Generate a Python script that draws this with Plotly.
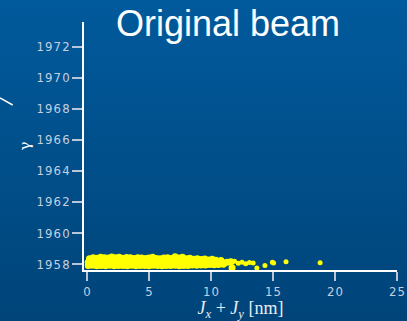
import plotly.graph_objects as go

# Dense core of the beam (three hand-read rows) and sparse tail
top_x = [0.2, 0.5, 0.8, 1.1, 1.4, 1.7, 2.0, 2.3, 2.6, 2.9, 3.2, 3.5, 3.8, 4.1, 4.4, 4.7, 5.0, 5.3,
         5.6, 5.9, 6.2, 6.5, 6.8, 7.1, 7.4, 7.7, 8.0, 8.3, 8.6, 8.9, 9.2, 9.5, 9.8, 10.1, 10.4, 10.8]
top_y = [1958.34, 1958.40, 1958.37, 1958.43, 1958.41, 1958.38, 1958.45, 1958.41, 1958.43, 1958.37,
         1958.42, 1958.40, 1958.36, 1958.41, 1958.38, 1958.35, 1958.39, 1958.43, 1958.36, 1958.34,
         1958.38, 1958.41, 1958.35, 1958.46, 1958.38, 1958.43, 1958.33, 1958.37, 1958.31, 1958.34,
         1958.29, 1958.32, 1958.26, 1958.30, 1958.24, 1958.22]
mid_x = [0.1, 0.45, 0.8, 1.15, 1.5, 1.85, 2.2, 2.55, 2.9, 3.25, 3.6, 3.95, 4.3, 4.65, 5.0, 5.35,
         5.7, 6.05, 6.4, 6.75, 7.1, 7.45, 7.8, 8.15, 8.5, 8.85, 9.2, 9.55, 9.9, 10.25, 10.6, 10.95,
         11.3, 11.6]
mid_y = [1958.12, 1958.14, 1958.10, 1958.15, 1958.11, 1958.13, 1958.16, 1958.09, 1958.14, 1958.12,
         1958.15, 1958.10, 1958.13, 1958.11, 1958.14, 1958.12, 1958.09, 1958.14, 1958.11, 1958.13,
         1958.15, 1958.10, 1958.12, 1958.14, 1958.09, 1958.12, 1958.10, 1958.13, 1958.08, 1958.11,
         1958.07, 1958.10, 1958.12, 1958.15]
bot_x = [0.1, 0.45, 0.8, 1.15, 1.5, 1.85, 2.2, 2.55, 2.9, 3.25, 3.6, 3.95, 4.3, 4.65, 5.0, 5.35,
         5.7, 6.05, 6.4, 6.75, 7.1, 7.45, 7.8, 8.15, 8.5, 8.85, 9.2, 9.55, 9.9, 10.25, 10.6, 11.0,
         11.7]
bot_y = [1957.90, 1957.92, 1957.88, 1957.91, 1957.89, 1957.92, 1957.88, 1957.90, 1957.91, 1957.89,
         1957.92, 1957.88, 1957.90, 1957.91, 1957.89, 1957.92, 1957.90, 1957.88, 1957.91, 1957.90,
         1957.92, 1957.89, 1957.91, 1957.90, 1957.93, 1957.92, 1957.94, 1957.93, 1957.96, 1957.95,
         1957.97, 1957.98, 1957.76]
tail_x = [11.9, 12.2, 12.5, 12.8, 13.1, 13.4, 13.7, 14.35, 14.95, 15.05, 16.05, 18.8]
tail_y = [1958.18, 1958.05, 1958.12, 1958.02, 1958.10, 1958.06, 1957.74, 1957.90, 1958.12, 1958.06, 1958.15, 1958.08]

x_ticks = [0, 5, 10, 15, 20, 25]
y_ticks = [1958, 1960, 1962, 1964, 1966, 1968, 1970, 1972]

HS = "\u200a"  # hair space: the reference digits are drawn widely spaced


def spaced(v):
    return HS.join(str(v))


core_x = top_x + mid_x + bot_x
core_y = top_y + mid_y + bot_y

fig = go.Figure()
fig.add_trace(go.Scatter(x=core_x, y=core_y, mode="markers",
                         marker=dict(color="#ffff00", size=7, line=dict(width=0)),
                         showlegend=False, hoverinfo="skip"))
fig.add_trace(go.Scatter(x=tail_x, y=tail_y, mode="markers",
                         marker=dict(color="#ffff00", size=5, line=dict(width=0)),
                         showlegend=False, hoverinfo="skip"))

grad = ("data:image/svg+xml;utf8,"
        "<svg xmlns='http://www.w3.org/2000/svg' width='100' height='100' preserveAspectRatio='none'>"
        "<defs><linearGradient id='g' x1='0' y1='0' x2='0' y2='1'>"
        "<stop offset='0' stop-color='%23015a9c'/><stop offset='1' stop-color='%23004479'/>"
        "</linearGradient></defs><rect width='100' height='100' fill='url(%23g)'/></svg>")

tickfont = dict(family="Liberation Sans Narrow, DejaVu Sans Condensed, Arial Narrow, sans-serif",
                size=13, color="#c3d0e0")

fig.update_layout(
    width=407, height=321,
    margin=dict(l=84, r=10, t=22, b=51, autoexpand=False),
    paper_bgcolor="#004f8c",
    plot_bgcolor="rgba(0,0,0,0)",
    images=[dict(source=grad, xref="paper", yref="paper", x=-84/313, y=1+22/248,
                 sizex=407/313, sizey=321/248, sizing="stretch", layer="below",
                 xanchor="left", yanchor="top")],
    title=dict(text="Original beam", font=dict(family="Liberation Sans, Arial, sans-serif",
                                              size=36, color="white"),
               xref="container", yref="container", x=228/407, y=1-23/321,
               xanchor="center", yanchor="middle"),
    xaxis=dict(range=[-0.24, 25], tickvals=x_ticks, ticktext=[spaced(v) for v in x_ticks],
               showgrid=False, zeroline=False, showline=True, linecolor="white", linewidth=1.5,
               ticks="outside", ticklen=9, tickcolor="#b8c6d8", tickwidth=1.5,
               tickfont=tickfont, automargin=False,
               title=dict(text="<i>J</i><sub><i>x</i></sub> + <i>J</i><sub><i>y</i></sub> [nm]",
                          font=dict(family="Liberation Serif, DejaVu Serif, serif", size=18,
                                    color="#e8eef5"), standoff=7)),
    yaxis=dict(range=[1957.613, 1973.59], tickvals=y_ticks, ticktext=[spaced(v) for v in y_ticks],
               showgrid=False, zeroline=False, showline=True, linecolor="white", linewidth=1.5,
               ticks="outside", ticklen=10, tickcolor="#b8c6d8", tickwidth=1.5,
               tickfont=tickfont, automargin=False,
               title=dict(text="γ", font=dict(family="DejaVu Serif, serif", size=15, color="white"),
                          standoff=2)),
    shapes=[dict(type="line", xref="paper", yref="paper",
                 x0=-84/313, y0=(270-98)/248, x1=(12.7-84)/313, y1=(270-105)/248,
                 line=dict(color="white", width=1.5))],
)

fig.write_html("out.html")
